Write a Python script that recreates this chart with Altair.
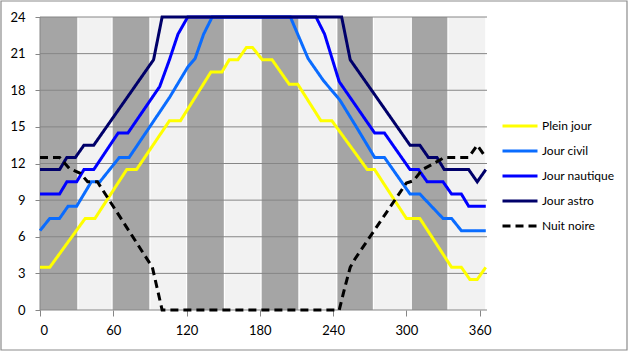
import altair as alt
import pandas as pd

# ---------------- data ----------------
series_names = ["Plein jour", "Jour civil", "Jour nautique", "Jour astro", "Nuit noire"]

plein_x = [0, 8, 37, 45, 71, 79, 106, 115, 140, 149, 155, 162, 169, 174, 182, 190, 204, 211,
           230, 239, 268, 274, 300, 311, 337, 345, 352, 358, 365]
plein_y = [3.5, 3.5, 7.5, 7.5, 11.5, 11.5, 15.5, 15.5, 19.5, 19.5, 20.5, 20.5, 21.5, 21.5,
           20.5, 20.5, 18.5, 18.5, 15.5, 15.5, 11.5, 11.5, 7.5, 7.5, 3.5, 3.5, 2.5, 2.5, 3.5]

civil_x = [0, 8, 16, 23, 30, 42, 49, 65, 73, 106, 121, 127, 134, 141,
           205, 219.5, 232, 245.5, 259, 274, 282, 303, 311, 330, 337, 345, 365]
civil_y = [6.5, 7.5, 7.5, 8.5, 8.5, 10.5, 10.5, 12.5, 12.5, 17.4, 19.9, 20.6, 22.6, 24,
           24, 20.6, 18.8, 17.2, 15.0, 12.5, 12.5, 9.5, 9.5, 7.5, 7.5, 6.5, 6.5]

naut_x = [0, 16, 22, 30, 36, 44, 64, 72, 98, 106, 113, 121,
          226, 233, 245, 274, 282, 303, 310, 317, 330, 337, 345, 351, 365]
naut_y = [9.5, 9.5, 10.5, 10.5, 11.5, 11.5, 14.5, 14.5, 18.3, 20.5, 22.6, 24,
          24, 22.6, 18.7, 14.5, 14.5, 11.5, 11.5, 10.5, 10.5, 9.5, 9.5, 8.5, 8.5]

astro_x = [0, 16, 22, 29, 36, 44, 93, 100, 247, 254, 303, 311, 318, 325, 331, 351, 358, 365]
astro_y = [11.5, 11.5, 12.5, 12.5, 13.5, 13.5, 20.5, 24, 24, 20.5, 13.5, 13.5, 12.5, 12.5,
           11.5, 11.5, 10.5, 11.5]

noire_x = [0, 16, 24, 33, 39, 47, 92, 100, 245, 250, 254, 258, 300, 306, 313, 326, 331, 351, 358, 365]
noire_y = [12.5, 12.5, 11.6, 11.2, 10.5, 10.5, 3.5, 0, 0, 2.0, 3.5, 4.2, 10.4, 10.6, 11.5,
           12.2, 12.5, 12.5, 13.5, 12.5]

month_start = [0, 31, 59, 90, 120, 151, 181, 212, 243, 273, 304, 334]
month_end = [31, 59, 90, 120, 151, 181, 212, 243, 273, 304, 334, 365]

y_ticks = [0, 3, 6, 9, 12, 15, 18, 21, 24]
x_ticks = [0, 60, 120, 180, 240, 300, 360]

# ---------------- styling ----------------
colors = ["#ffff00", "#0a6cff", "#0000ff", "#00006a", "#000000"]
dashes = [[1, 0], [1, 0], [1, 0], [1, 0], [8, 5]]
FONT = "Lato"

rows = []
for name, xs, ys in zip(series_names,
                        [plein_x, civil_x, naut_x, astro_x, noire_x],
                        [plein_y, civil_y, naut_y, astro_y, noire_y]):
    for i, (x, y) in enumerate(zip(xs, ys)):
        rows.append({"serie": name, "jour": x, "heures": y, "ordre": i})
df = pd.DataFrame(rows)

bands = pd.DataFrame({"debut": [s + 0.5 for s in month_start],
                      "fin": [e - 0.5 for e in month_end],
                      "sombre": [i % 2 == 0 for i in range(12)]})
bands.loc[0, "debut"] = 0
dark = bands[bands["sombre"]]
light = bands[~bands["sombre"]]

xscale = alt.Scale(domain=[0, 366], nice=False, zero=False)
yscale = alt.Scale(domain=[0, 24], nice=False)

x_axis = alt.Axis(values=x_ticks, title=None, grid=False, domain=False, tickColor="#868686",
                  tickSize=6, labelPadding=8, labelFont=FONT, labelFontSize=13,
                  labelColor="#000000")
y_axis = alt.Axis(values=y_ticks, title=None, grid=False, domain=False, tickColor="#868686",
                  tickSize=5, labelPadding=10, labelFont=FONT, labelFontSize=13,
                  labelColor="#000000")

dark_layer = alt.Chart(dark).mark_rect(color="#a5a5a5").encode(
    x=alt.X("debut:Q", scale=xscale, axis=x_axis),
    x2="fin:Q",
    y=alt.Y("y0:Q", scale=yscale, axis=y_axis),
    y2="y1:Q",
).transform_calculate(y0="0", y1="24")

light_layer = alt.Chart(light).mark_rect(color="#f2f2f2").encode(
    x=alt.X("debut:Q", scale=xscale, axis=x_axis),
    x2="fin:Q",
    y=alt.Y("y0:Q", scale=yscale, axis=y_axis),
    y2="y1:Q",
).transform_calculate(y0="0", y1="24")

grid = alt.Chart(pd.DataFrame({"h": y_ticks})).mark_rule(color="#868686", strokeWidth=1).encode(
    y=alt.Y("h:Q", scale=yscale, axis=y_axis)
)
yline = alt.Chart(pd.DataFrame({"v": [0]})).mark_rule(color="#868686", strokeWidth=1).encode(
    x=alt.X("v:Q", scale=xscale, axis=x_axis)
)

lines = alt.Chart(df).mark_line(strokeWidth=3).encode(
    x=alt.X("jour:Q", scale=xscale, axis=x_axis),
    y=alt.Y("heures:Q", scale=yscale, axis=y_axis),
    color=alt.Color("serie:N", scale=alt.Scale(domain=series_names, range=colors),
                    legend=alt.Legend(title=None)),
    strokeDash=alt.StrokeDash("serie:N", scale=alt.Scale(domain=series_names, range=dashes),
                              legend=alt.Legend(title=None)),
    order="ordre:Q",
)

frame = alt.Chart(pd.DataFrame({"k": [0]})).mark_rect(
    fillOpacity=0, stroke="#8c8c8c", strokeWidth=1.2).encode(
    x=alt.value(-39), x2=alt.value(587), y=alt.value(-16), y2=alt.value(333)
)

chart = alt.layer(dark_layer, light_layer, grid, yline, lines, frame).properties(
    width=447, height=293,
    autosize=alt.AutoSizeParams(type="none"),
    padding={"left": 40, "top": 17, "right": 141, "bottom": 41},
    background="#ffffff",
).configure_view(stroke=None).configure_legend(
    orient="none", legendX=461, legendY=90, padding=0,
    symbolType="stroke", symbolSize=1225, symbolStrokeWidth=3,
    labelFont=FONT, labelFontSize=12, labelColor="#000000", labelOffset=3,
    rowPadding=-2, labelLimit=200,
)

chart.save("out.html", embed_options={"renderer": "svg", "actions": False})
